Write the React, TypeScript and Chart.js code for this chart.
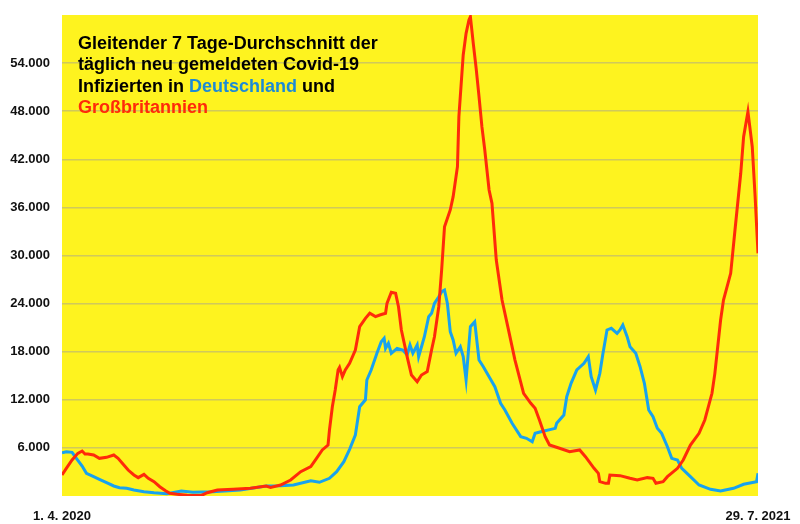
import React, { useEffect, useRef } from 'react';
import { Chart, registerables } from 'chart.js';

Chart.register(...registerables);

// Day index since 1. 4. 2020 (0 … 484 = 29. 7. 2021)
const deDays = [0, 3, 7, 10, 14, 17, 22, 26, 31, 36, 40, 45, 50, 57, 64, 73, 83, 91, 105, 124, 142, 152, 161, 173, 179, 186, 191, 196, 200, 204, 207, 211, 212, 215, 219, 222, 224, 225, 227, 229, 233, 237, 240, 242, 244, 247, 248, 250, 252, 255, 257, 259, 262, 264, 266, 268, 270, 272, 274, 277, 279, 281, 284, 287, 290, 293, 297, 301, 305, 308, 313, 319, 323, 327, 329, 333, 343, 344, 349, 351, 354, 358, 363, 366, 368, 371, 374, 376, 379, 382, 386, 388, 390, 393, 395, 399, 402, 405, 408, 411, 414, 417, 421, 424, 428, 431, 437, 443, 451, 458, 467, 474, 483, 484];
const deCases = [5400, 5530, 5450, 4700, 3740, 2830, 2410, 2080, 1660, 1250, 1040, 960, 750, 540, 410, 290, 620, 460, 540, 750, 1250, 1290, 1370, 1910, 1710, 2210, 3030, 4280, 5820, 7610, 11140, 12000, 14470, 15720, 17800, 19250, 19670, 18420, 19050, 17800, 18420, 18210, 17590, 18830, 17800, 18830, 17380, 18620, 19870, 22370, 22790, 24030, 24860, 25490, 25700, 24030, 20500, 19460, 17800, 18620, 17380, 14470, 21120, 21740, 16960, 16130, 14880, 13630, 11560, 10730, 9070, 7400, 7200, 6770, 7820, 8020, 8440, 9070, 10100, 12390, 14050, 15720, 16550, 17380, 14880, 13220, 15300, 17590, 20710, 20920, 20290, 20710, 21330, 19870, 18620, 17800, 16130, 14050, 10730, 9890, 8440, 7820, 6150, 4700, 4490, 3450, 2410, 1370, 830, 620, 960, 1460, 1790, 2830];

const ukDays = [0, 3, 7, 11, 14, 16, 18, 22, 26, 31, 36, 39, 43, 46, 50, 53, 57, 60, 64, 68, 72, 75, 80, 87, 94, 97, 101, 108, 119, 131, 142, 145, 152, 159, 166, 173, 177, 181, 185, 186, 188, 190, 192, 193, 195, 197, 200, 204, 207, 211, 214, 218, 221, 225, 226, 229, 232, 234, 236, 240, 243, 247, 250, 254, 257, 259, 262, 264, 266, 270, 272, 275, 276, 279, 281, 283, 284, 286, 288, 290, 292, 294, 297, 299, 302, 306, 310, 315, 321, 326, 329, 332, 336, 339, 346, 353, 360, 364, 370, 373, 374, 378, 380, 381, 388, 395, 400, 407, 411, 413, 418, 421, 428, 432, 437, 443, 447, 452, 454, 458, 460, 465, 468, 472, 474, 477, 480, 482, 484];
const ukCases = [2620, 3450, 4490, 5320, 5610, 5240, 5240, 5110, 4700, 4820, 5110, 4700, 3870, 3240, 2620, 2290, 2700, 2200, 1790, 1160, 660, 340, 210, 100, 50, 80, 410, 750, 830, 960, 1250, 1080, 1370, 2000, 3030, 3660, 4700, 5740, 6360, 8230, 11140, 13220, 15720, 16050, 14880, 15720, 16550, 18210, 21120, 22160, 22790, 22370, 22580, 22790, 24030, 25410, 25280, 23610, 20710, 17380, 15090, 14260, 15090, 15510, 18210, 19870, 23610, 28190, 33590, 35680, 37340, 41080, 47320, 55010, 57710, 59380, 59790, 56470, 53350, 49810, 46070, 43160, 38170, 36510, 29440, 24450, 21120, 16960, 12810, 11560, 10940, 9480, 7400, 6360, 5950, 5530, 5740, 4900, 3450, 2830, 1790, 1580, 1580, 2620, 2540, 2210, 2000, 2290, 2210, 1580, 1790, 2410, 3450, 4490, 6360, 7820, 9480, 12810, 15300, 21950, 24450, 27780, 33180, 40260, 44820, 47940, 43570, 37340, 30270];

const xTickDays = [0, 484];
const xTickLabels = ['1. 4. 2020', '29. 7. 2021'];
const yMax = 60000;
const yStep = 6000;

const YELLOW = '#FEF31F';
const RED = '#FF2A0A';
const BLUE = '#18A2EE';
const TITLE_BLUE = '#1C8AD6';
const GRID = 'rgba(170,165,140,0.55)';
const FONT = "'Liberation Sans', Arial, Helvetica, sans-serif";

const titleLines = [
  [{ t: 'Gleitender 7 Tage-Durchschnitt der', c: '#000' }],
  [{ t: 'täglich neu gemeldeten Covid-19', c: '#000' }],
  [{ t: 'Infizierten in ', c: '#000' }, { t: 'Deutschland', c: TITLE_BLUE }, { t: ' und', c: '#000' }],
  [{ t: 'Großbritannien', c: RED }],
];

const fmt = (v: number) => String(Math.round(v)).replace(/\B(?=(\d{3})+(?!\d))/g, '.');

export default function App() {
  const ref = useRef<HTMLCanvasElement>(null);
  useEffect(() => {
    document.body.style.margin = '0';
    const canvas = ref.current!;
    const bgPlugin = {
      id: 'bgYellow',
      beforeDraw(chart: any) {
        const { ctx, chartArea: a } = chart;
        ctx.save();
        ctx.fillStyle = YELLOW;
        ctx.fillRect(a.left, a.top, a.right - a.left, a.bottom - a.top);
        ctx.restore();
      },
    };
    const titlePlugin = {
      id: 'titleText',
      afterDraw(chart: any) {
        const { ctx } = chart;
        ctx.save();
        ctx.font = `bold 18px ${FONT}`;
        ctx.textBaseline = 'alphabetic';
        ctx.textAlign = 'left';
        titleLines.forEach((line, i) => {
          let x = 78;
          const y = 49 + i * 21.3;
          line.forEach((seg) => {
            ctx.fillStyle = seg.c;
            ctx.fillText(seg.t, x, y);
            x += ctx.measureText(seg.t).width;
          });
        });
        ctx.restore();
      },
    };
    const chart = new Chart(canvas, {
      type: 'line',
      data: {
        datasets: [
          {
            label: 'Großbritannien',
            data: ukDays.map((d, i) => ({ x: d, y: ukCases[i] })),
            borderColor: RED,
            borderWidth: 3,
            pointRadius: 0,
            tension: 0,
          },
          {
            label: 'Deutschland',
            data: deDays.map((d, i) => ({ x: d, y: deCases[i] })),
            borderColor: BLUE,
            borderWidth: 3,
            pointRadius: 0,
            tension: 0,
          },
        ],
      },
      options: {
        responsive: false,
        animation: false,
        layout: { padding: { top: 15, right: 42, left: 0, bottom: 0 } },
        plugins: { legend: { display: false }, tooltip: { enabled: false } },
        scales: {
          x: {
            type: 'linear',
            min: xTickDays[0],
            max: xTickDays[xTickDays.length - 1],
            grid: { display: false },
            border: { display: false },
            afterBuildTicks: (s: any) => {
              s.ticks = xTickDays.map((v) => ({ value: v }));
            },
            afterFit: (s: any) => {
              s.height = 28;
            },
            ticks: {
              autoSkip: false,
              maxRotation: 0,
              padding: 5,
              color: '#111',
              font: { family: FONT, weight: 'bold', size: 13 },
              callback: (v: any) => {
                const i = xTickDays.indexOf(Number(v));
                return i >= 0 ? xTickLabels[i] : '';
              },
            },
          },
          y: {
            min: 0,
            max: yMax,
            afterFit: (s: any) => {
              s.width = 62;
              s.paddingTop = 0;
              s.paddingBottom = 0;
            },
            border: { display: false },
            grid: {
              drawTicks: false,
              lineWidth: 1.5,
              color: (c: any) => (c.tick && (c.tick.value === 0 || c.tick.value === yMax) ? 'rgba(0,0,0,0)' : GRID),
            },
            ticks: {
              stepSize: yStep,
              padding: 12,
              color: '#111',
              font: { family: FONT, weight: 'bold', size: 13 },
              callback: (v: any) => (v === 0 || v === yMax ? '' : fmt(Number(v))),
            },
          },
        },
      },
      plugins: [bgPlugin, titlePlugin],
    } as any);
    return () => chart.destroy();
  }, []);
  return (
    <div style={{ width: 800, height: 524 }}>
      <canvas ref={ref} width={800} height={524} style={{ display: 'block' }} />
    </div>
  );
}
